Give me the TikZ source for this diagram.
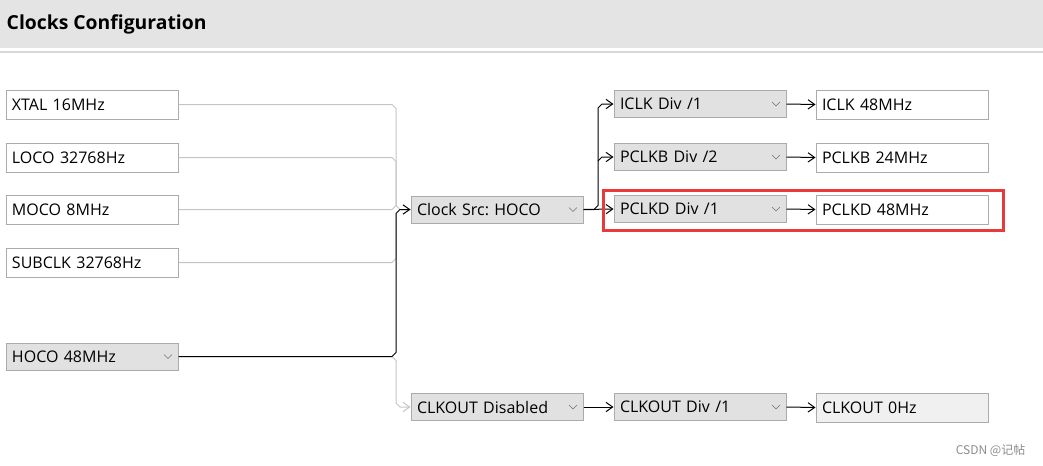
\documentclass[tikz,border=0pt]{standalone}
\usepackage{fontspec}
\setmainfont{Open Sans}
\newfontfamily\cjk{Noto Sans CJK SC}
\frenchspacing
\usetikzlibrary{arrows.meta}

\definecolor{barbg}{HTML}{E4E4E4}
\definecolor{barline}{HTML}{D8D8D8}
\definecolor{boxline}{HTML}{ABABAB}
\definecolor{dropbg}{HTML}{E1E1E1}
\definecolor{wiregray}{HTML}{C4C4C4}
\definecolor{hilite}{HTML}{E83A3A}

\tikzset{
    valbox/.style={draw=boxline, line width=0.75pt, fill=white, inner xsep=4.5pt, inner ysep=0pt,
        text width=120pt, align=left, minimum height=21.75pt, font=\fontsize{12}{13}\selectfont},
    dropbox/.style={valbox, fill=dropbg, minimum height=20.25pt,
        path picture={\draw[black!55, line width=0.5pt]
            ([xshift=-10.5pt,yshift=1.5pt]path picture bounding box.east)
            -- ++(3pt,-3pt) -- ++(3pt,3pt);}},
    wire/.style={line width=0.75pt, black},
    graywire/.style={line width=0.75pt, wiregray},
    >={Straight Barb[length=5pt,width=7pt]}
}

\begin{document}
\begin{tikzpicture}[x=0.75pt, y=-0.75pt]
    \useasboundingbox (0,0) rectangle (1043,465);
    % title bar
    \fill[barbg] (0,0) rectangle (1043,48);
    \fill[barline] (0,50.5) rectangle (1043,52.5);
    \node[anchor=west, font=\fontsize{14.5}{16}\selectfont\bfseries] (title) at (2,24) {Clocks Configuration};

    % sources
    \node[valbox] (xtal) at (92,104.5) {XTAL 16MHz};
    \node[valbox] (loco) at (92,157.5) {LOCO 32768Hz};
    \node[valbox] (moco) at (92,209.5) {MOCO 8MHz};
    \node[valbox] (subclk) at (92,262.5) {SUBCLK 32768Hz};
    \node[dropbox] (hoco) at (92,356.5) {HOCO 48MHz};

    % selectors
    \node[dropbox] (clksrc) at (497,209.5) {Clock Src: HOCO};
    \node[dropbox] (clkoutsel) at (497,407) {CLKOUT Disabled};

    % dividers
    \node[dropbox] (iclkdiv) at (700,104) {ICLK Div /1};
    \node[dropbox] (pclkbdiv) at (700,157) {PCLKB Div /2};
    \node[dropbox] (pclkddiv) at (700,209) {PCLKD Div /1};
    \node[dropbox] (clkoutdiv) at (700,407) {CLKOUT Div /1};

    % outputs
    \node[valbox] (iclk) at (902,104.5) {ICLK 48MHz};
    \node[valbox] (pclkb) at (902,157.5) {PCLKB 24MHz};
    \node[valbox] (pclkd) at (902,209.5) {PCLKD 48MHz};
    \node[valbox, fill=black!6] (clkout) at (902,407.5) {CLKOUT 0Hz};

    % unused sources, grey
    \draw[graywire] (xtal.east) -- (392,104.5) -- (396,108.5) -- (396,205.5) -- (400,209.5) -- (clksrc.west);
    \draw[graywire] (loco.east) -- (392,157.5) -- (396,161.5) -- (396,205.5);
    \draw[graywire] (moco.east) -- (392,209.5) -- (396,205.5);
    \draw[graywire] (subclk.east) -- (392,262.5) -- (396,258.5) -- (396,213.5);
    \draw[graywire, ->] (hoco.east) -- (392,356.5) -- (396,360.5) -- (396,403) -- (400,407) -- (clkoutsel.west);
    % selected source
    \draw[wire, ->] (hoco.east) -- (392,356.5) -- (396,352.5) -- (396,213.5) -- (400,209.5) -- (clksrc.west);

    % clock tree
    \draw[wire, ->] (clksrc.east) -- (594,209.5) -- (598,205.5) -- (598,108) -- (602,104) -- (iclkdiv.west);
    \draw[wire, ->] (598,161) -- (602,157) -- (pclkbdiv.west);
    \draw[wire, ->] (clksrc.east) -- (pclkddiv.west);
    \draw[wire, ->] (clkoutsel.east) -- (clkoutdiv.west);

    \draw[wire, ->] (iclkdiv.east) -- (iclk.west);
    \draw[wire, ->] (pclkbdiv.east) -- (pclkb.west);
    \draw[wire, ->] (pclkddiv.east) -- (pclkd.west);
    \draw[wire, ->] (clkoutdiv.east) -- (clkout.west);

    % highlight
    \draw[hilite, line width=2.25pt] (603,190.5) rectangle (1003,230.5);

    \node[anchor=east, text=black!45, font=\cjk\fontsize{9}{10}\selectfont] (mark) at (1030,450) {CSDN @记帖};
\end{tikzpicture}
\end{document}
